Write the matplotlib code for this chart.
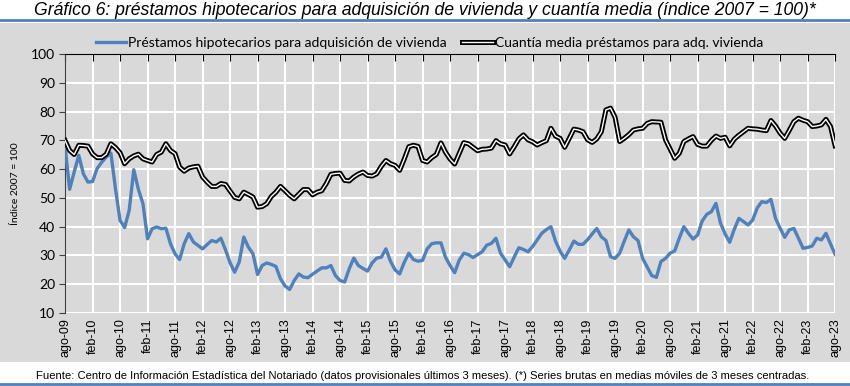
import matplotlib.pyplot as plt
import numpy as np
from matplotlib.patches import Rectangle
from matplotlib.lines import Line2D

# monthly data, ago-09 .. ago-23 (3-month centred moving averages, index 2007 = 100)
prestamos = [
    68, 53, 59, 64.8, 58.4, 55.5, 55.7, 60.2, 62.4, 64.2, 65.6, 53.3,
    42.2, 39.7, 45.7, 59.8, 53, 48, 35.8, 39.3, 39.9, 39.3, 39.5, 34.1,
    30.6, 28.6, 34.1, 37.6, 34.7, 33.5, 32.3, 33.8, 35.2, 34.7, 36, 32,
    27.5, 24.2, 27.7, 36.4, 32.9, 30.6, 23.4, 26.5, 27.4, 26.9, 26.2, 21.9,
    19.4, 18.2, 21.3, 23.6, 22.5, 22.3, 23.5, 24.6, 25.7, 25.7, 26.5, 23,
    21.3, 20.8, 25.4, 29.1, 26.5, 25.5, 24.6, 27.4, 29.1, 29.4, 32.3, 28,
    25, 23.6, 27.6, 30.8, 28.6, 28, 28.3, 32.3, 34.1, 34.4, 34.4, 29.4,
    26.5, 24, 28.4, 30.8, 30.3, 29.3, 30.3, 31.3, 33.6, 34.2, 36, 30.8,
    28.5, 26.1, 29.5, 32.7, 32.1, 31.3, 33.1, 35.4, 37.7, 39, 40, 35,
    31.5, 29, 31.9, 35, 33.9, 33.9, 35.5, 37.5, 39.4, 36.5, 35.2, 29.6,
    29, 30.8, 35, 38.9, 36.5, 35.2, 29, 26, 23, 22.4, 27.9, 29,
    30.8, 31.6, 36, 40, 37.7, 35.7, 37.1, 42, 44.3, 45.2, 48.1, 41.2,
    37.5, 34.6, 39.1, 42.9, 41.8, 40.6, 42.3, 46.5, 48.7, 48.4, 49.5, 42.9,
    39.5, 36.3, 38.9, 39.4, 36, 32.5, 32.8, 33.3, 36, 35.4, 37.7, 34,
    30.4,
]
cuantia = [
    70, 66.5, 65.1, 68.3, 68.2, 68, 65.3, 64, 64, 65.2, 68.8, 67.5,
    65.7, 61.9, 63.6, 64.6, 65.2, 63.6, 63, 62.5, 65.1, 65.9, 68.8, 66.5,
    65.4, 60.7, 59.3, 60.4, 60.8, 61, 57.3, 55.5, 54, 54, 55, 54.7,
    52.4, 50.2, 49.7, 52, 51.2, 50.3, 46.8, 47, 48, 50.5, 52, 54,
    52.5, 50.9, 49.7, 51.3, 52.9, 52.9, 51.1, 52, 52.5, 55, 58.2, 58.5,
    58.6, 56.1, 55.9, 57.3, 58.3, 59, 57.8, 57.6, 58.4, 61, 63, 61.9,
    61.3, 59.6, 63.5, 67.8, 68.3, 67.9, 63, 62.5, 64, 65.1, 69.1, 65.9,
    63.5, 61.8, 65.5, 69.2, 68.8, 67.6, 66.4, 66.9, 67, 67.3, 69.9, 68.8,
    68.4, 65.3, 67.8, 70.5, 71.9, 70.2, 69.5, 68.4, 69.2, 69.9, 74.2, 71.5,
    70.7, 67.6, 70.7, 73.9, 73.6, 73, 70.2, 69.3, 70.5, 73, 80.6, 81.2,
    78, 69.6, 70.7, 72, 73.6, 74, 74.2, 75.9, 76.5, 76.4, 76.3, 70.2,
    67, 63.8, 65.5, 69.6, 70.5, 71.3, 68.6, 68, 68, 70, 71.5, 70.7,
    71.1, 68.1, 70.4, 71.8, 73, 74.2, 74, 73.9, 73.6, 73.4, 76.9, 75,
    72.5, 70.7, 73.5, 76.5, 77.7, 77, 76.5, 74.8, 75, 75.4, 77.3, 74.8,
    68.1,
]
tick_labels = ['ago-09', 'feb-10', 'ago-10', 'feb-11', 'ago-11', 'feb-12', 'ago-12',
               'feb-13', 'ago-13', 'feb-14', 'ago-14', 'feb-15', 'ago-15', 'feb-16',
               'ago-16', 'feb-17', 'ago-17', 'feb-18', 'ago-18', 'feb-19', 'ago-19',
               'feb-20', 'ago-20', 'feb-21', 'ago-21', 'feb-22', 'ago-22', 'feb-23',
               'ago-23']

months = np.arange(len(prestamos))
blue = '#4f81bd'
grey = '#d9d9d9'
arial = ['Liberation Sans', 'DejaVu Sans']
calib = ['Lato', 'DejaVu Sans']

fig = plt.figure(figsize=(8.5, 3.86), dpi=100)

# grey chart area and blue rules
fig.patches.append(Rectangle((0, 0.062), 1, 0.878, transform=fig.transFigure,
                             facecolor=grey, edgecolor='none', zorder=-10))
fig.add_artist(Line2D([0, 1], [0.947, 0.947], transform=fig.transFigure, color=blue, lw=2))
fig.add_artist(Line2D([0, 1], [0.006, 0.006], transform=fig.transFigure, color=blue, lw=2))

fig.text(0.5, 0.972, 'Gráfico 6: préstamos hipotecarios para adquisición de vivienda y cuantía media (índice 2007 = 100)*',
         ha='center', va='center', fontsize=12.7, style='italic', family=arial)
fig.text(0.497, 0.025, 'Fuente: Centro de Información Estadística del Notariado (datos provisionales últimos 3 meses). '
         '(*) Series brutas en medias móviles de 3 meses centradas.',
         ha='center', va='center', fontsize=8.1, family=arial)

ax = fig.add_axes([0.0765, 0.189, 0.906, 0.671])
ax.set_facecolor(grey)

ax.plot(months, prestamos, color=blue, lw=2.4, zorder=3)
l1, = ax.plot(months, cuantia, color='black', lw=3.6, zorder=4)
l2, = ax.plot(months, cuantia, color='white', lw=1.0, zorder=5)
lb = Line2D([], [], color=blue, lw=2.4)

ax.set_xlim(0, len(months) - 1)
ax.set_ylim(10, 100)
ax.set_xticks(np.arange(0, len(months), 6))
ax.set_xticklabels(tick_labels, rotation=90, fontsize=9, family=arial)
ax.set_yticks(np.arange(10, 101, 10))
for lab in ax.get_yticklabels():
    lab.set_fontsize(10)
    lab.set_family(calib)

ax.grid(True, color='white', lw=1.5)
ax.set_axisbelow(True)
ax.tick_params(axis='x', top=True, bottom=False, labelbottom=True, labeltop=False,
               direction='in', length=5, color='black', pad=4)
ax.tick_params(axis='y', direction='out', length=4, color='#404040', pad=3)
for s in ['right', 'bottom']:
    ax.spines[s].set_visible(False)
ax.spines['top'].set_color('black')
ax.spines['left'].set_color('#404040')

ax.set_ylabel('Índice 2007 = 100', fontsize=7.5, family=calib, labelpad=8)

fig.legend([lb, (l1, l2)],
           ['Préstamos hipotecarios para adquisición de vivienda',
            'Cuantía media préstamos para adq. vivienda'],
           loc='center', bbox_to_anchor=(0.505, 0.889), ncol=2, frameon=False,
           prop={'family': calib, 'size': 10}, handlelength=2.2,
           handletextpad=0.15, columnspacing=1.1)

fig.savefig('out.png', dpi=100)
